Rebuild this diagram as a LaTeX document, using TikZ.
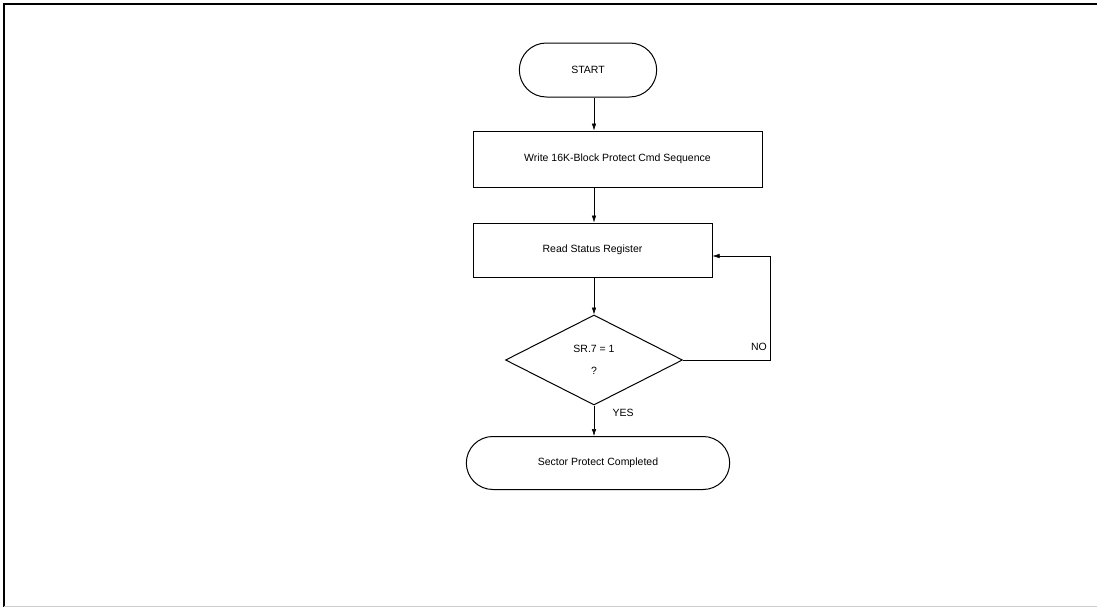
\documentclass[tikz,border=0pt]{standalone}
\usepackage{fontspec}
\setmainfont{Liberation Sans}
\usetikzlibrary{shapes.geometric,shapes.misc,arrows.meta}
\tikzset{
    term/.style={rounded rectangle, draw, line width=1pt, font=\fontsize{10.5}{12}\selectfont},
    proc/.style={rectangle, draw, line width=1pt, font=\fontsize{10.5}{12}\selectfont},
    decide/.style={diamond, draw, line width=1pt, inner sep=0pt, align=center, font=\fontsize{10.5}{12}\selectfont},
    flow/.style={-{Latex[length=7pt,width=4.5pt]}, line width=0.5pt},
    lbl/.style={font=\fontsize{10.5}{12}\selectfont}
}

\begin{document}
\begin{tikzpicture}[x=1pt,y=-1pt]
		\useasboundingbox (0,0) rectangle (1097,608);
		\draw[line width=1.3pt] (1097,4) -- (4,4) -- (4,607);
		\draw[gray!40, line width=0.8pt] (4,606) -- (1097,606);
		\node[term, minimum width=144pt, minimum height=54pt] (start) at (588,70) {START};
		\node[proc, minimum width=289pt, minimum height=56pt] (write) at (617.5,159) {Write 16K-Block Protect Cmd Sequence};
		\node[proc, minimum width=239pt, minimum height=54pt] (read) at (592.5,250) {Read Status Register};
		\node[decide, minimum width=177pt, minimum height=90pt] (test) at (594,360) {SR.7 = 1\\[10pt]?};
		\node[term, minimum width=270pt, minimum height=53pt] (done) at (598,463) {Sector Protect Completed};
		\coordinate (back) at (770,358);
		\draw[flow] (start.south -| test.north) -- (write.north -| test.north);
		\draw[flow] (write.south -| test.north) -- (read.north -| test.north);
		\draw[flow] (read.south -| test.north) -- (test.north);
		\draw[flow] (test.south) -- (done.north -| test.south);
		\draw[flow] (test.east) -- (test.east -| back) |- ([yshift=-6pt]read.east);
		\node[lbl] (no) at (759,347) {NO};
		\node[lbl] (yes) at (623,413) {YES};
	\end{tikzpicture}
\end{document}
